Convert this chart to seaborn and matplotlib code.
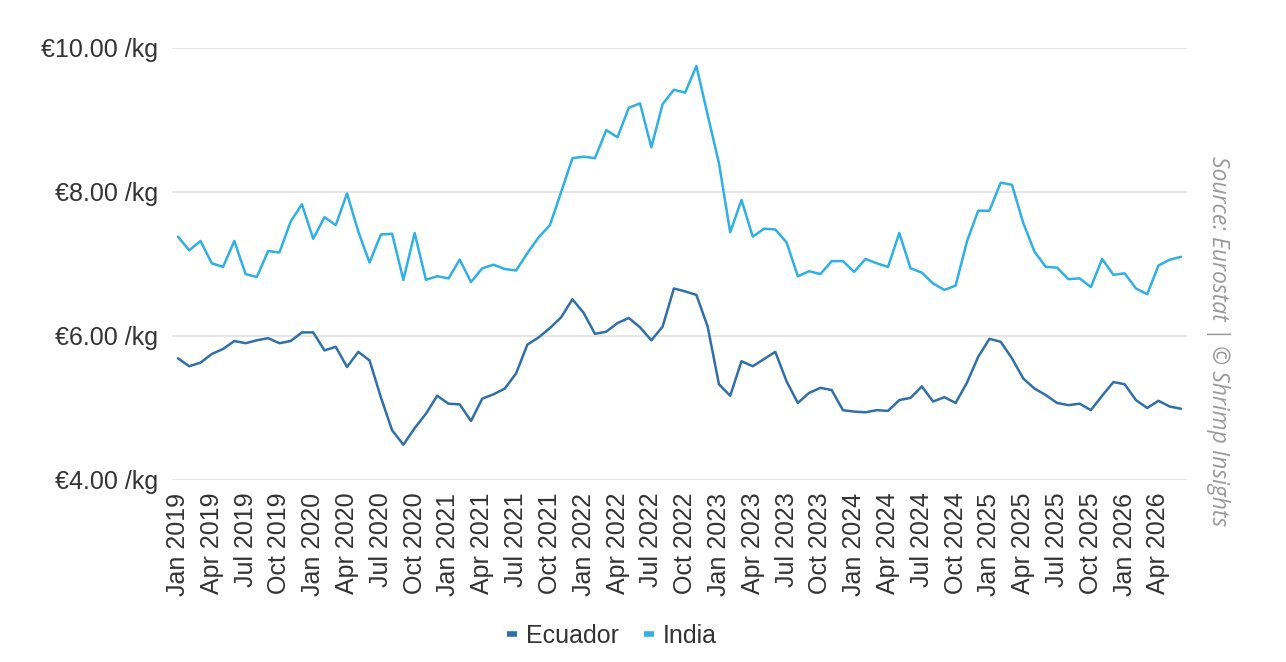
import pandas as pd
import matplotlib
matplotlib.use("Agg")
import matplotlib.pyplot as plt
import seaborn as sns

# monthly import prices, EUR per kg, Jan 2019 - Jun 2026
months = pd.date_range("2019-01-01", periods=90, freq="MS")

ecuador = [
    5.69, 5.58, 5.63, 5.75, 5.82, 5.93, 5.90, 5.94, 5.97, 5.90, 5.93, 6.05,
    6.05, 5.80, 5.85, 5.57, 5.78, 5.66, 5.15, 4.69, 4.49, 4.72, 4.92, 5.17,
    5.06, 5.05, 4.82, 5.13, 5.19, 5.27, 5.48, 5.88, 5.98, 6.11, 6.26, 6.51,
    6.32, 6.03, 6.06, 6.18, 6.25, 6.12, 5.94, 6.13, 6.66, 6.62, 6.57, 6.13,
    5.33, 5.17, 5.65, 5.58, 5.68, 5.78, 5.37, 5.07, 5.21, 5.28, 5.25, 4.97,
    4.95, 4.94, 4.97, 4.96, 5.11, 5.14, 5.30, 5.09, 5.15, 5.07, 5.35, 5.71,
    5.96, 5.92, 5.69, 5.41, 5.27, 5.18, 5.07, 5.04, 5.06, 4.97, 5.17, 5.36,
    5.33, 5.11, 5.00, 5.10, 5.02, 4.99,
]

india = [
    7.38, 7.19, 7.32, 7.01, 6.96, 7.32, 6.86, 6.82, 7.18, 7.16, 7.59, 7.83,
    7.35, 7.65, 7.54, 7.98, 7.45, 7.02, 7.41, 7.42, 6.78, 7.43, 6.78, 6.83,
    6.80, 7.06, 6.75, 6.94, 6.99, 6.93, 6.91, 7.15, 7.37, 7.54, 8.00, 8.47,
    8.49, 8.47, 8.86, 8.76, 9.17, 9.23, 8.62, 9.22, 9.42, 9.38, 9.75, 9.07,
    8.40, 7.44, 7.89, 7.38, 7.49, 7.48, 7.30, 6.83, 6.90, 6.86, 7.04, 7.04,
    6.89, 7.07, 7.01, 6.96, 7.43, 6.94, 6.88, 6.73, 6.64, 6.70, 7.31, 7.74,
    7.74, 8.13, 8.10, 7.57, 7.17, 6.96, 6.95, 6.79, 6.80, 6.68, 7.07, 6.85,
    6.87, 6.66, 6.58, 6.98, 7.06, 7.10,
]

countries = ["Ecuador", "India"]
colors = ["#2f6faa", "#2fb0e4"]
source_note = "Source: Eurostat | © Shrimp Insights"

idx = list(range(len(months)))
df = pd.DataFrame({
    "idx": idx * 2,
    "price": ecuador + india,
    "country": ["Ecuador"] * len(idx) + ["India"] * len(idx),
})

sns.set_theme(style="white")
plt.rcParams["font.family"] = ["Liberation Sans", "DejaVu Sans"]
text_col = "#333333"

fig = plt.figure(figsize=(12.86, 6.62), dpi=100)
ax = fig.add_axes([172 / 1286, 1 - 480 / 662, 1015 / 1286, 432 / 662])

sns.lineplot(data=df, x="idx", y="price", hue="country", hue_order=countries,
             palette=colors, linewidth=1.8, legend=False, ax=ax)

ax.set_xlim(-0.53, len(months) - 1 + 0.53)
ax.set_ylim(4, 10)
ax.set_yticks([4, 6, 8, 10])
ax.set_yticklabels([f"€{v:.2f} /kg" for v in [4, 6, 8, 10]])
tick_idx = idx[::3]
ax.set_xticks(tick_idx)
ax.set_xticklabels([months[i].strftime("%b %Y") for i in tick_idx], rotation=90)
ax.tick_params(axis="both", length=0, labelsize=18, colors=text_col)
ax.tick_params(axis="y", pad=10)
ax.tick_params(axis="x", pad=9)
ax.yaxis.grid(True, color="#e2e2e2", linewidth=1.2)
ax.xaxis.grid(False)
for s in ax.spines.values():
    s.set_visible(False)
ax.set_xlabel("")
ax.set_ylabel("")

handles = [plt.Line2D([], [], color=c, linewidth=4, solid_capstyle="butt") for c in colors]
fig.legend(handles, countries, loc="center", bbox_to_anchor=(0.476, 0.04),
           ncol=2, frameon=False, fontsize=18, handlelength=0.4,
           handletextpad=0.35, columnspacing=1.0, labelcolor=text_col)

fig.text(1218 / 1286, 1 - 341 / 662, source_note, rotation=270, ha="center", va="center",
         fontsize=16.5, style="italic", color="#9a9a9a", family=["Open Sans", "DejaVu Sans"])

fig.savefig("out.png", dpi=100, facecolor="white")
